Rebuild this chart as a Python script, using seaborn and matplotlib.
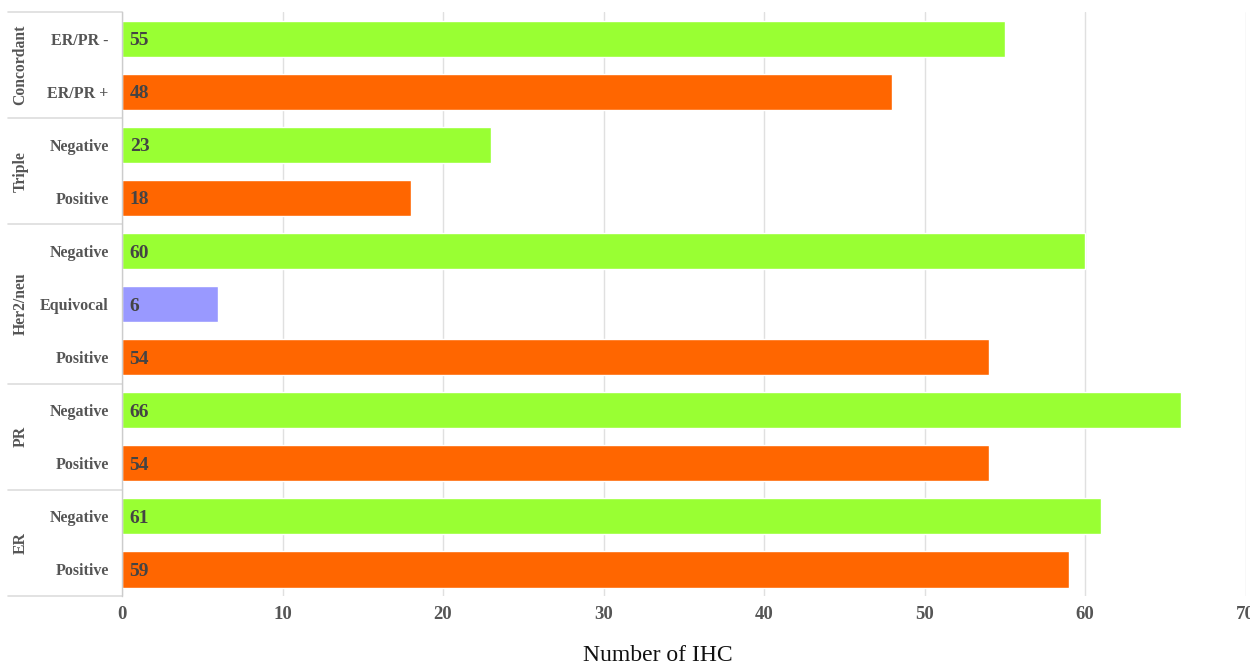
import matplotlib
matplotlib.use("Agg")
import matplotlib.pyplot as plt
import matplotlib.transforms as mtransforms
import seaborn as sns
import pandas as pd

# ---- data (top to bottom) ----
groups = ["Concordant", "Concordant", "Triple", "Triple",
          "Her2/neu", "Her2/neu", "Her2/neu", "PR", "PR", "ER", "ER"]
categories = ["ER/PR -", "ER/PR +", "Negative", "Positive",
              "Negative", "Equivocal", "Positive", "Negative", "Positive",
              "Negative", "Positive"]
values = [55, 48, 23, 18, 60, 6, 54, 66, 54, 61, 59]
status = ["neg", "pos", "neg", "pos", "neg", "equiv", "pos", "neg", "pos", "neg", "pos"]
group_order = ["Concordant", "Triple", "Her2/neu", "PR", "ER"]
x_ticks = [0, 10, 20, 30, 40, 50, 60, 70]

palette = {"neg": "#99ff33", "pos": "#ff6600", "equiv": "#9999ff"}

df = pd.DataFrame({
    "row": [f"{g}|{c}" for g, c in zip(groups, categories)],
    "group": groups, "category": categories,
    "value": values, "status": status,
})

sns.set_style("white")
plt.rcParams["font.family"] = ["Liberation Serif", "DejaVu Serif"]

fig = plt.figure(figsize=(12.5, 6.64), dpi=100)
ax = fig.add_axes([0.0976, 0.1024, 0.8988, 0.8795])

sns.barplot(data=df, x="value", y="row", hue="status", palette=palette,
            orient="h", dodge=False, width=0.68, legend=False, ax=ax,
            order=list(df["row"]), saturation=1)

ax.set_xlim(x_ticks[0], x_ticks[-1])
ax.set_ylim(len(df) - 0.5, -0.5)
ax.set_xticks(x_ticks)
ax.set_xticklabels([str(t) for t in x_ticks], fontsize=13.5,
                   fontweight="bold", color="#555555")
ax.set_yticks(range(len(df)))
ax.set_yticklabels(categories, fontsize=11.5, fontweight="bold", color="#555555")
ax.tick_params(axis="y", length=0, pad=9.5)
ax.tick_params(axis="x", length=0, pad=7)
ax.grid(axis="x", color="#e0e0e0", linewidth=1)
ax.set_axisbelow(True)
for s in ["top", "right", "bottom"]:
    ax.spines[s].set_visible(False)
ax.spines["left"].set_color("#cccccc")
ax.spines["left"].set_linewidth(1)

ax.set_xlabel("Number of IHC", fontsize=17, color="#111111")
ax.xaxis.set_label_coords(0.477, -0.084)
ax.set_ylabel("")

# value labels inside bars
for p in ax.patches:
    w = p.get_width()
    if w <= 0:
        continue
    ax.annotate(f"{int(round(w))}", (p.get_x(), p.get_y() + p.get_height() / 2),
                xytext=(5.5, -1.5), textcoords="offset points", ha="left", va="center",
                fontsize=14, fontweight="bold", color="#444444")

# group separators and labels
trans = mtransforms.blended_transform_factory(ax.transAxes, ax.transData)
bounds = [-0.5]
for g in group_order:
    idx = [i for i, gg in enumerate(groups) if gg == g]
    bounds.append(max(idx) + 0.5)
    ax.text(-0.0905, (min(idx) + max(idx)) / 2, g, transform=trans, rotation=90,
            ha="center", va="center", fontsize=11.3, fontweight="bold",
            color="#555555", clip_on=False)
for b in bounds:
    ax.plot([-0.1015, 0], [b, b], transform=trans, color="#dddddd",
            linewidth=1.2, clip_on=False)

fig.savefig("out.png", dpi=100)
